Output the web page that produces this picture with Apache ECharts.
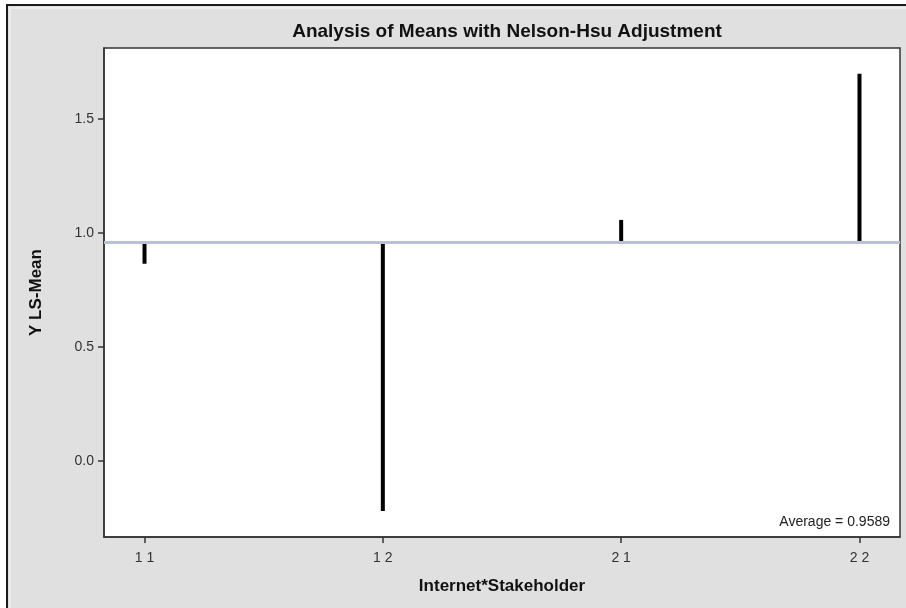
<!DOCTYPE html>
<html>
<head>
<meta charset="utf-8">
<script src="https://cdn.jsdelivr.net/npm/echarts@6/dist/echarts.min.js"></script>
<style>
  html, body { margin: 0; padding: 0; background: #ffffff; }
  #chart { width: 906px; height: 608px; }
</style>
</head>
<body>
<div id="chart"></div>
<script>
// Interaction levels (Internet * Stakeholder) and their least-squares means
const categories = ['1 1', '1 2', '2 1', '2 2'];
const lsMeans = [0.865, -0.218, 1.057, 1.697];
const average = 0.9589;

// Axis tick positions
const xTicks = [1, 2, 3, 4];
const yTicks = [0, 0.5, 1.0, 1.5];

const FONT = '"Liberation Sans", Arial, sans-serif';

// Each point is a vertical deviation segment from the overall average
const segData = lsMeans.map((v, i) => [xTicks[i], v]);

const chart = echarts.init(document.getElementById('chart'), null, { renderer: 'canvas' });

chart.setOption({
  backgroundColor: '#ffffff',
  animation: false,
  graphic: [
    {
      type: 'rect',
      z: -10,
      shape: { x: 7, y: 5, width: 910, height: 620 },
      style: { fill: '#e0e0e0', stroke: '#1a1a1a', lineWidth: 2 }
    },
    {
      type: 'polyline',
      z: -9,
      shape: { points: [[10, 620], [10, 8], [920, 8]] },
      style: { stroke: '#ececec', lineWidth: 2, fill: null }
    },
    {
      type: 'text',
      x: 890,
      y: 522,
      style: {
        text: 'Average = ' + average.toFixed(4),
        font: '14px ' + FONT,
        fill: '#222',
        align: 'right',
        verticalAlign: 'middle'
      }
    }
  ],
  title: {
    text: 'Analysis of Means with Nelson-Hsu Adjustment',
    left: 502,
    textAlign: 'center',
    top: 17,
    textStyle: { fontFamily: FONT, fontWeight: 'bold', fontSize: 19, color: '#111' }
  },
  grid: {
    left: 104, top: 48, width: 796, height: 489,
    show: true,
    backgroundColor: '#ffffff',
    borderColor: '#333',
    borderWidth: 1.5
  },
  xAxis: {
    type: 'value',
    min: 0.83,
    max: 4.17,
    name: 'Internet*Stakeholder',
    nameLocation: 'middle',
    nameGap: 41,
    nameTextStyle: { fontFamily: FONT, fontWeight: 'bold', fontSize: 17, color: '#111' },
    axisLine: { show: true, onZero: false, lineStyle: { color: '#333', width: 1.5 } },
    axisTick: { show: true, customValues: xTicks, length: 6, lineStyle: { color: '#333', width: 1.5 } },
    axisLabel: {
      customValues: xTicks,
      formatter: v => categories[Math.round(v) - 1],
      fontFamily: FONT, fontSize: 14, color: '#333', margin: 14
    },
    splitLine: { show: false }
  },
  yAxis: {
    type: 'value',
    min: -0.332,
    max: 1.81,
    name: 'Y LS-Mean',
    nameLocation: 'middle',
    nameGap: 59,
    nameTextStyle: { fontFamily: FONT, fontWeight: 'bold', fontSize: 17, color: '#111' },
    axisLine: { show: true, onZero: false, lineStyle: { color: '#333', width: 1.5 } },
    axisTick: { show: true, customValues: yTicks, length: 6, lineStyle: { color: '#333', width: 1.5 } },
    axisLabel: {
      customValues: yTicks,
      formatter: v => v.toFixed(1),
      fontFamily: FONT, fontSize: 14, color: '#333', margin: 10
    },
    splitLine: { show: false }
  },
  series: [
    {
      type: 'custom',
      data: segData,
      renderItem: function (params, api) {
        const x = api.value(0);
        const p0 = api.coord([x, average]);
        const p1 = api.coord([x, api.value(1)]);
        return {
          type: 'line',
          shape: { x1: p0[0], y1: p0[1], x2: p1[0], y2: p1[1] },
          style: { stroke: '#000', lineWidth: 4, lineCap: 'butt' }
        };
      },
      markLine: {
        silent: true,
        symbol: 'none',
        label: { show: false },
        lineStyle: { color: '#b9c1d9', width: 3, type: 'solid' },
        data: [{ yAxis: average }]
      },
      z: 3
    }
  ]
});
</script>
</body>
</html>
